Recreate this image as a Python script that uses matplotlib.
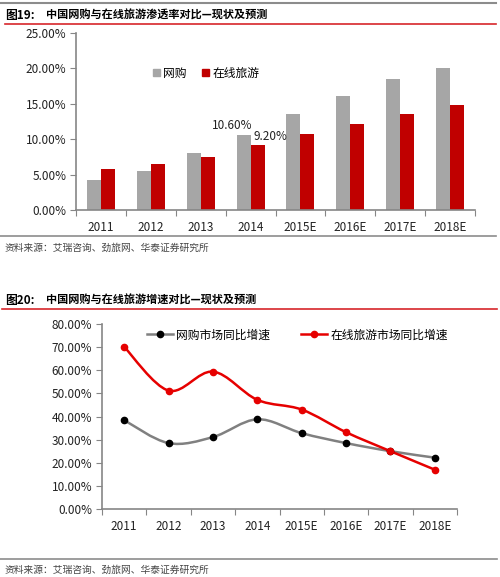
import matplotlib.pyplot as plt
from matplotlib.path import Path
from matplotlib.patches import PathPatch, Patch
from matplotlib.lines import Line2D
from matplotlib.ticker import PercentFormatter, FixedLocator
import numpy as np

plt.rcParams['font.family'] = ['Noto Sans CJK SC', 'DejaVu Sans']

# data
years = ['2011', '2012', '2013', '2014', '2015E', '2016E', '2017E', '2018E']
online_shop_rate = [4.25, 5.55, 8.0, 10.6, 13.5, 16.1, 18.5, 20.0]
online_travel_rate = [5.8, 6.5, 7.5, 9.2, 10.8, 12.2, 13.6, 14.9]
online_shop_growth = [38.4, 28.5, 31.1, 38.8, 32.8, 28.5, 25.0, 22.2]
online_travel_growth = [70.1, 51.2, 59.4, 47.2, 43.0, 33.2, 25.0, 17.0]

GREY_BAR = '#A6A6A6'
RED_BAR = '#C00000'
GREY_LINE = '#808080'
RED_LINE = '#E60000'
AXIS = '#868686'

W, H = 500, 577
fig = plt.figure(figsize=(W / 100, H / 100), dpi=100)


def fx(x):
    return x / W


def fy(y):
    return 1 - y / H


def hline(y, x0, x1, color, lw):
    fig.add_artist(Line2D([fx(x0), fx(x1)], [fy(y), fy(y)], color=color, lw=lw,
                          transform=fig.transFigure))


def smooth_path(xs, ys):
    # catmull-rom style bezier like excel's smoothed line
    pts = np.column_stack([xs, ys]).astype(float)
    n = len(pts)
    verts = [pts[0]]
    codes = [Path.MOVETO]
    for i in range(n - 1):
        p0 = pts[i - 1] if i > 0 else pts[i]
        p1 = pts[i]
        p2 = pts[i + 1]
        p3 = pts[i + 2] if i + 2 < n else pts[i + 1]
        c1 = p1 + (p2 - p0) / 6
        c2 = p2 - (p3 - p1) / 6
        verts += [c1, c2, p2]
        codes += [Path.CURVE4] * 3
    return Path(verts, codes)


def style_axes(ax, ymax, ystep):
    for s in ['top', 'right']:
        ax.spines[s].set_visible(False)
    for s in ['left', 'bottom']:
        ax.spines[s].set_color(AXIS)
        ax.spines[s].set_linewidth(1.2)
    ax.set_xlim(-0.5, len(years) - 0.5)
    ax.set_ylim(0, ymax)
    ax.set_yticks(np.arange(0, ymax + 0.01, ystep))
    ax.yaxis.set_major_formatter(PercentFormatter(decimals=2))
    ax.xaxis.set_major_locator(FixedLocator(np.arange(-0.5, len(years), 1)))
    ax.xaxis.set_major_formatter(plt.NullFormatter())
    ax.set_xticks(np.arange(len(years)), minor=True)
    ax.set_xticklabels(years, minor=True)
    ax.tick_params(axis='x', which='major', length=4, color=AXIS, direction='out')
    ax.tick_params(axis='x', which='minor', length=0, pad=8, labelsize=8.5, labelcolor='#222222')
    ax.tick_params(axis='y', length=4, color=AXIS, labelsize=8.5, labelcolor='#222222', pad=3)


# frame lines and titles
hline(3, 0, 496, '#8C8C8C', 1.5)
hline(24, 5, 496, '#D7262B', 1.2)
fig.text(fx(5), fy(15), '图19:', fontsize=8.5, fontweight='bold', va='center')
fig.text(fx(46), fy(15), '中国网购与在线旅游渗透率对比—现状及预测', fontsize=8, fontweight='bold', va='center')
hline(236, 0, 496, '#8C8C8C', 1.2)
fig.text(fx(5), fy(248), '资料来源：艾瑞咨询、劲旅网、华泰证券研究所', fontsize=7, color='#444444',
         va='center', style='italic')

fig.text(fx(5), fy(300), '图20:', fontsize=8.5, fontweight='bold', va='center')
fig.text(fx(46), fy(300), '中国网购与在线旅游增速对比—现状及预测', fontsize=8, fontweight='bold', va='center')
hline(309, 2, 497, '#D7262B', 1.2)
hline(559, 0, 497, '#8C8C8C', 1.2)
fig.text(fx(5), fy(570), '资料来源：艾瑞咨询、劲旅网、华泰证券研究所', fontsize=7, color='#444444',
         va='center', style='italic')

# chart 1: penetration bars
ax1 = fig.add_axes([fx(76), fy(210), fx(399), 177 / H])
x = np.arange(len(years))
bw = 0.28
ax1.bar(x - bw / 2, online_shop_rate, bw, color=GREY_BAR, label='网购')
ax1.bar(x + bw / 2, online_travel_rate, bw, color=RED_BAR, label='在线旅游')
style_axes(ax1, 25, 5)
ax1.text(3 - bw / 2 - 0.23, online_shop_rate[3] + 1.3, '10.60%', fontsize=8.5, ha='center', va='center', color='#222222')
ax1.text(3 + bw / 2 + 0.25, online_travel_rate[3] + 1.2, '9.20%', fontsize=8.5, ha='center', va='center', color='#222222')
ax1.legend(handles=[Patch(color=GREY_BAR, label='网购'), Patch(color=RED_BAR, label='在线旅游')],
           loc='center left', bbox_to_anchor=(fx(142), fy(73)), bbox_transform=fig.transFigure,
           ncol=2, frameon=False, fontsize=8.5, handlelength=0.6, handleheight=0.6,
           handletextpad=0.3, columnspacing=1.3)

# chart 2: growth lines
ax2 = fig.add_axes([fx(102), fy(509), fx(355), 185 / H])
ax2.add_patch(PathPatch(smooth_path(x, online_shop_growth), fill=False, edgecolor=GREY_LINE, lw=1.8))
ax2.add_patch(PathPatch(smooth_path(x, online_travel_growth), fill=False, edgecolor=RED_LINE, lw=1.8))
ax2.plot(x, online_shop_growth, 'o', color='black', ms=4.5, zorder=3)
ax2.plot(x, online_travel_growth, 'o', color=RED_LINE, ms=4.5, zorder=3)
style_axes(ax2, 80, 10)
ax2.legend(handles=[Line2D([], [], color=GREY_LINE, lw=1.8, marker='o', mfc='black', mec='black', ms=4.5,
                           label='网购市场同比增速'),
                    Line2D([], [], color=RED_LINE, lw=1.8, marker='o', ms=4.5, label='在线旅游市场同比增速')],
           loc='center left', bbox_to_anchor=(fx(136), fy(335)), bbox_transform=fig.transFigure,
           ncol=2, frameon=False, fontsize=8.5, handlelength=2.2, handletextpad=0.3, columnspacing=2.6)

fig.savefig('out.png', dpi=100)
